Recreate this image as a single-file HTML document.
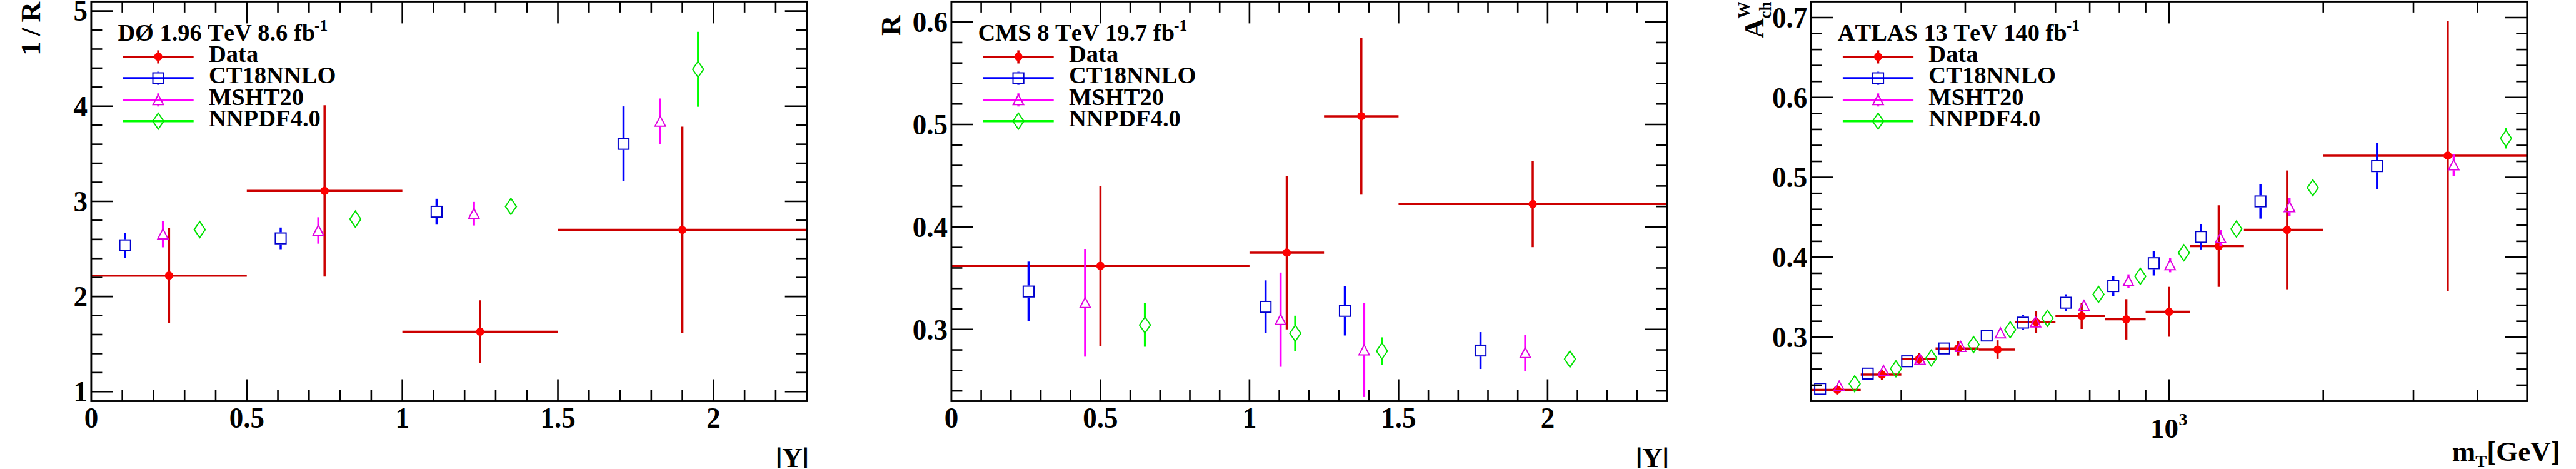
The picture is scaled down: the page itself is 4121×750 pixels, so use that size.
<!DOCTYPE html>
<html><head><meta charset="utf-8"><title>plots</title>
<style>
html,body{margin:0;padding:0;background:#fff;}
svg{display:block}
text{font-family:"Liberation Serif",serif;font-weight:bold;fill:#000;font-kerning:none;}
</style></head><body>
<svg width="4121" height="750" viewBox="0 0 4121 750">
<defs><clipPath id="cb"><rect x="0" y="0" width="4121" height="748"/></clipPath></defs>
<rect x="0" y="0" width="4121" height="750" fill="#fff"/>
<line x1="145.90" y1="440.64" x2="394.77" y2="440.64" stroke="#cc0000" stroke-width="3.5" stroke-linecap="butt"/>
<line x1="270.33" y1="364.56" x2="270.33" y2="516.72" stroke="#cc0000" stroke-width="3.5" stroke-linecap="butt"/>
<circle cx="270.33" cy="440.64" r="6.6" fill="#ff0000"/>
<line x1="394.77" y1="305.21" x2="643.64" y2="305.21" stroke="#cc0000" stroke-width="3.5" stroke-linecap="butt"/>
<line x1="519.20" y1="168.26" x2="519.20" y2="442.16" stroke="#cc0000" stroke-width="3.5" stroke-linecap="butt"/>
<circle cx="519.20" cy="305.21" r="6.6" fill="#ff0000"/>
<line x1="643.64" y1="530.42" x2="892.51" y2="530.42" stroke="#cc0000" stroke-width="3.5" stroke-linecap="butt"/>
<line x1="768.07" y1="480.20" x2="768.07" y2="580.63" stroke="#cc0000" stroke-width="3.5" stroke-linecap="butt"/>
<circle cx="768.07" cy="530.42" r="6.6" fill="#ff0000"/>
<line x1="892.51" y1="367.60" x2="1290.70" y2="367.60" stroke="#cc0000" stroke-width="3.5" stroke-linecap="butt"/>
<line x1="1091.60" y1="202.50" x2="1091.60" y2="532.70" stroke="#cc0000" stroke-width="3.5" stroke-linecap="butt"/>
<circle cx="1091.60" cy="367.60" r="6.6" fill="#ff0000"/>
<line x1="200.15" y1="372.47" x2="200.15" y2="382.65" stroke="#0000ff" stroke-width="3.5" stroke-linecap="butt"/>
<line x1="200.15" y1="401.85" x2="200.15" y2="412.03" stroke="#0000ff" stroke-width="3.5" stroke-linecap="butt"/>
<rect x="191.55" y="383.65" width="17.2" height="17.2" fill="none" stroke="#0000cc" stroke-width="2.0"/>
<line x1="449.02" y1="363.80" x2="449.02" y2="371.54" stroke="#0000ff" stroke-width="3.5" stroke-linecap="butt"/>
<line x1="449.02" y1="390.74" x2="449.02" y2="398.49" stroke="#0000ff" stroke-width="3.5" stroke-linecap="butt"/>
<rect x="440.42" y="372.54" width="17.2" height="17.2" fill="none" stroke="#0000cc" stroke-width="2.0"/>
<line x1="698.39" y1="317.84" x2="698.39" y2="328.94" stroke="#0000ff" stroke-width="3.5" stroke-linecap="butt"/>
<line x1="698.39" y1="348.14" x2="698.39" y2="359.23" stroke="#0000ff" stroke-width="3.5" stroke-linecap="butt"/>
<rect x="689.79" y="329.94" width="17.2" height="17.2" fill="none" stroke="#0000cc" stroke-width="2.0"/>
<line x1="997.53" y1="170.09" x2="997.53" y2="220.44" stroke="#0000ff" stroke-width="3.5" stroke-linecap="butt"/>
<line x1="997.53" y1="239.64" x2="997.53" y2="290.00" stroke="#0000ff" stroke-width="3.5" stroke-linecap="butt"/>
<rect x="988.93" y="221.44" width="17.2" height="17.2" fill="none" stroke="#0000cc" stroke-width="2.0"/>
<line x1="260.68" y1="353.45" x2="260.68" y2="366.85" stroke="#ff00ff" stroke-width="3.5" stroke-linecap="butt"/>
<line x1="260.68" y1="382.75" x2="260.68" y2="395.45" stroke="#ff00ff" stroke-width="3.5" stroke-linecap="butt"/>
<path d="M252.38 381.95L268.98 381.95L260.68 366.15Z" fill="none" stroke="#e000e0" stroke-width="2.0" stroke-linejoin="miter"/>
<line x1="509.25" y1="347.36" x2="509.25" y2="360.91" stroke="#ff00ff" stroke-width="3.5" stroke-linecap="butt"/>
<line x1="509.25" y1="376.81" x2="509.25" y2="389.66" stroke="#ff00ff" stroke-width="3.5" stroke-linecap="butt"/>
<path d="M500.95 376.01L517.55 376.01L509.25 360.21Z" fill="none" stroke="#e000e0" stroke-width="2.0" stroke-linejoin="miter"/>
<line x1="758.12" y1="322.86" x2="758.12" y2="334.13" stroke="#ff00ff" stroke-width="3.5" stroke-linecap="butt"/>
<line x1="758.12" y1="350.03" x2="758.12" y2="360.60" stroke="#ff00ff" stroke-width="3.5" stroke-linecap="butt"/>
<path d="M749.82 349.23L766.42 349.23L758.12 333.43Z" fill="none" stroke="#e000e0" stroke-width="2.0" stroke-linejoin="miter"/>
<line x1="1056.26" y1="157.46" x2="1056.26" y2="186.53" stroke="#ff00ff" stroke-width="3.5" stroke-linecap="butt"/>
<line x1="1056.26" y1="202.43" x2="1056.26" y2="230.80" stroke="#ff00ff" stroke-width="3.5" stroke-linecap="butt"/>
<path d="M1047.96 201.63L1064.56 201.63L1056.26 185.83Z" fill="none" stroke="#e000e0" stroke-width="2.0" stroke-linejoin="miter"/>
<path d="M310.66 367.14L319.46 354.34L328.26 367.14L319.46 379.94Z" fill="none" stroke="#00e200" stroke-width="2.0" stroke-linejoin="miter"/>
<path d="M559.68 350.41L568.48 337.61L577.28 350.41L568.48 363.21Z" fill="none" stroke="#00e200" stroke-width="2.0" stroke-linejoin="miter"/>
<path d="M808.55 330.17L817.35 317.37L826.15 330.17L817.35 342.97Z" fill="none" stroke="#00e200" stroke-width="2.0" stroke-linejoin="miter"/>
<line x1="1116.79" y1="50.79" x2="1116.79" y2="98.14" stroke="#00ff00" stroke-width="3.5" stroke-linecap="butt"/>
<line x1="1116.79" y1="123.34" x2="1116.79" y2="170.70" stroke="#00ff00" stroke-width="3.5" stroke-linecap="butt"/>
<path d="M1107.99 110.74L1116.79 97.94L1125.59 110.74L1116.79 123.54Z" fill="none" stroke="#00e200" stroke-width="2.0" stroke-linejoin="miter"/>
<line x1="145.90" y1="626.28" x2="180.90" y2="626.28" stroke="#000" stroke-width="2.6" stroke-linecap="butt"/>
<line x1="1290.70" y1="626.28" x2="1255.70" y2="626.28" stroke="#000" stroke-width="2.6" stroke-linecap="butt"/>
<line x1="145.90" y1="595.85" x2="163.40" y2="595.85" stroke="#000" stroke-width="2.6" stroke-linecap="butt"/>
<line x1="1290.70" y1="595.85" x2="1273.20" y2="595.85" stroke="#000" stroke-width="2.6" stroke-linecap="butt"/>
<line x1="145.90" y1="565.42" x2="163.40" y2="565.42" stroke="#000" stroke-width="2.6" stroke-linecap="butt"/>
<line x1="1290.70" y1="565.42" x2="1273.20" y2="565.42" stroke="#000" stroke-width="2.6" stroke-linecap="butt"/>
<line x1="145.90" y1="534.98" x2="163.40" y2="534.98" stroke="#000" stroke-width="2.6" stroke-linecap="butt"/>
<line x1="1290.70" y1="534.98" x2="1273.20" y2="534.98" stroke="#000" stroke-width="2.6" stroke-linecap="butt"/>
<line x1="145.90" y1="504.55" x2="163.40" y2="504.55" stroke="#000" stroke-width="2.6" stroke-linecap="butt"/>
<line x1="1290.70" y1="504.55" x2="1273.20" y2="504.55" stroke="#000" stroke-width="2.6" stroke-linecap="butt"/>
<line x1="145.90" y1="474.12" x2="180.90" y2="474.12" stroke="#000" stroke-width="2.6" stroke-linecap="butt"/>
<line x1="1290.70" y1="474.12" x2="1255.70" y2="474.12" stroke="#000" stroke-width="2.6" stroke-linecap="butt"/>
<line x1="145.90" y1="443.68" x2="163.40" y2="443.68" stroke="#000" stroke-width="2.6" stroke-linecap="butt"/>
<line x1="1290.70" y1="443.68" x2="1273.20" y2="443.68" stroke="#000" stroke-width="2.6" stroke-linecap="butt"/>
<line x1="145.90" y1="413.25" x2="163.40" y2="413.25" stroke="#000" stroke-width="2.6" stroke-linecap="butt"/>
<line x1="1290.70" y1="413.25" x2="1273.20" y2="413.25" stroke="#000" stroke-width="2.6" stroke-linecap="butt"/>
<line x1="145.90" y1="382.82" x2="163.40" y2="382.82" stroke="#000" stroke-width="2.6" stroke-linecap="butt"/>
<line x1="1290.70" y1="382.82" x2="1273.20" y2="382.82" stroke="#000" stroke-width="2.6" stroke-linecap="butt"/>
<line x1="145.90" y1="352.38" x2="163.40" y2="352.38" stroke="#000" stroke-width="2.6" stroke-linecap="butt"/>
<line x1="1290.70" y1="352.38" x2="1273.20" y2="352.38" stroke="#000" stroke-width="2.6" stroke-linecap="butt"/>
<line x1="145.90" y1="321.95" x2="180.90" y2="321.95" stroke="#000" stroke-width="2.6" stroke-linecap="butt"/>
<line x1="1290.70" y1="321.95" x2="1255.70" y2="321.95" stroke="#000" stroke-width="2.6" stroke-linecap="butt"/>
<line x1="145.90" y1="291.52" x2="163.40" y2="291.52" stroke="#000" stroke-width="2.6" stroke-linecap="butt"/>
<line x1="1290.70" y1="291.52" x2="1273.20" y2="291.52" stroke="#000" stroke-width="2.6" stroke-linecap="butt"/>
<line x1="145.90" y1="261.08" x2="163.40" y2="261.08" stroke="#000" stroke-width="2.6" stroke-linecap="butt"/>
<line x1="1290.70" y1="261.08" x2="1273.20" y2="261.08" stroke="#000" stroke-width="2.6" stroke-linecap="butt"/>
<line x1="145.90" y1="230.65" x2="163.40" y2="230.65" stroke="#000" stroke-width="2.6" stroke-linecap="butt"/>
<line x1="1290.70" y1="230.65" x2="1273.20" y2="230.65" stroke="#000" stroke-width="2.6" stroke-linecap="butt"/>
<line x1="145.90" y1="200.22" x2="163.40" y2="200.22" stroke="#000" stroke-width="2.6" stroke-linecap="butt"/>
<line x1="1290.70" y1="200.22" x2="1273.20" y2="200.22" stroke="#000" stroke-width="2.6" stroke-linecap="butt"/>
<line x1="145.90" y1="169.78" x2="180.90" y2="169.78" stroke="#000" stroke-width="2.6" stroke-linecap="butt"/>
<line x1="1290.70" y1="169.78" x2="1255.70" y2="169.78" stroke="#000" stroke-width="2.6" stroke-linecap="butt"/>
<line x1="145.90" y1="139.35" x2="163.40" y2="139.35" stroke="#000" stroke-width="2.6" stroke-linecap="butt"/>
<line x1="1290.70" y1="139.35" x2="1273.20" y2="139.35" stroke="#000" stroke-width="2.6" stroke-linecap="butt"/>
<line x1="145.90" y1="108.92" x2="163.40" y2="108.92" stroke="#000" stroke-width="2.6" stroke-linecap="butt"/>
<line x1="1290.70" y1="108.92" x2="1273.20" y2="108.92" stroke="#000" stroke-width="2.6" stroke-linecap="butt"/>
<line x1="145.90" y1="78.48" x2="163.40" y2="78.48" stroke="#000" stroke-width="2.6" stroke-linecap="butt"/>
<line x1="1290.70" y1="78.48" x2="1273.20" y2="78.48" stroke="#000" stroke-width="2.6" stroke-linecap="butt"/>
<line x1="145.90" y1="48.05" x2="163.40" y2="48.05" stroke="#000" stroke-width="2.6" stroke-linecap="butt"/>
<line x1="1290.70" y1="48.05" x2="1273.20" y2="48.05" stroke="#000" stroke-width="2.6" stroke-linecap="butt"/>
<line x1="145.90" y1="17.62" x2="180.90" y2="17.62" stroke="#000" stroke-width="2.6" stroke-linecap="butt"/>
<line x1="1290.70" y1="17.62" x2="1255.70" y2="17.62" stroke="#000" stroke-width="2.6" stroke-linecap="butt"/>
<text transform="translate(139.90,642.08) scale(1,1.04)" font-size="45" text-anchor="end">1</text>
<text transform="translate(139.90,489.92) scale(1,1.04)" font-size="45" text-anchor="end">2</text>
<text transform="translate(139.90,337.75) scale(1,1.04)" font-size="45" text-anchor="end">3</text>
<text transform="translate(139.90,185.58) scale(1,1.04)" font-size="45" text-anchor="end">4</text>
<text transform="translate(139.90,33.42) scale(1,1.04)" font-size="45" text-anchor="end">5</text>
<line x1="195.67" y1="641.50" x2="195.67" y2="624.00" stroke="#000" stroke-width="2.6" stroke-linecap="butt"/>
<line x1="195.67" y1="2.40" x2="195.67" y2="19.90" stroke="#000" stroke-width="2.6" stroke-linecap="butt"/>
<line x1="245.45" y1="641.50" x2="245.45" y2="624.00" stroke="#000" stroke-width="2.6" stroke-linecap="butt"/>
<line x1="245.45" y1="2.40" x2="245.45" y2="19.90" stroke="#000" stroke-width="2.6" stroke-linecap="butt"/>
<line x1="295.22" y1="641.50" x2="295.22" y2="624.00" stroke="#000" stroke-width="2.6" stroke-linecap="butt"/>
<line x1="295.22" y1="2.40" x2="295.22" y2="19.90" stroke="#000" stroke-width="2.6" stroke-linecap="butt"/>
<line x1="345.00" y1="641.50" x2="345.00" y2="624.00" stroke="#000" stroke-width="2.6" stroke-linecap="butt"/>
<line x1="345.00" y1="2.40" x2="345.00" y2="19.90" stroke="#000" stroke-width="2.6" stroke-linecap="butt"/>
<line x1="394.77" y1="641.50" x2="394.77" y2="606.50" stroke="#000" stroke-width="2.6" stroke-linecap="butt"/>
<line x1="394.77" y1="2.40" x2="394.77" y2="37.40" stroke="#000" stroke-width="2.6" stroke-linecap="butt"/>
<line x1="444.54" y1="641.50" x2="444.54" y2="624.00" stroke="#000" stroke-width="2.6" stroke-linecap="butt"/>
<line x1="444.54" y1="2.40" x2="444.54" y2="19.90" stroke="#000" stroke-width="2.6" stroke-linecap="butt"/>
<line x1="494.32" y1="641.50" x2="494.32" y2="624.00" stroke="#000" stroke-width="2.6" stroke-linecap="butt"/>
<line x1="494.32" y1="2.40" x2="494.32" y2="19.90" stroke="#000" stroke-width="2.6" stroke-linecap="butt"/>
<line x1="544.09" y1="641.50" x2="544.09" y2="624.00" stroke="#000" stroke-width="2.6" stroke-linecap="butt"/>
<line x1="544.09" y1="2.40" x2="544.09" y2="19.90" stroke="#000" stroke-width="2.6" stroke-linecap="butt"/>
<line x1="593.87" y1="641.50" x2="593.87" y2="624.00" stroke="#000" stroke-width="2.6" stroke-linecap="butt"/>
<line x1="593.87" y1="2.40" x2="593.87" y2="19.90" stroke="#000" stroke-width="2.6" stroke-linecap="butt"/>
<line x1="643.64" y1="641.50" x2="643.64" y2="606.50" stroke="#000" stroke-width="2.6" stroke-linecap="butt"/>
<line x1="643.64" y1="2.40" x2="643.64" y2="37.40" stroke="#000" stroke-width="2.6" stroke-linecap="butt"/>
<line x1="693.41" y1="641.50" x2="693.41" y2="624.00" stroke="#000" stroke-width="2.6" stroke-linecap="butt"/>
<line x1="693.41" y1="2.40" x2="693.41" y2="19.90" stroke="#000" stroke-width="2.6" stroke-linecap="butt"/>
<line x1="743.19" y1="641.50" x2="743.19" y2="624.00" stroke="#000" stroke-width="2.6" stroke-linecap="butt"/>
<line x1="743.19" y1="2.40" x2="743.19" y2="19.90" stroke="#000" stroke-width="2.6" stroke-linecap="butt"/>
<line x1="792.96" y1="641.50" x2="792.96" y2="624.00" stroke="#000" stroke-width="2.6" stroke-linecap="butt"/>
<line x1="792.96" y1="2.40" x2="792.96" y2="19.90" stroke="#000" stroke-width="2.6" stroke-linecap="butt"/>
<line x1="842.73" y1="641.50" x2="842.73" y2="624.00" stroke="#000" stroke-width="2.6" stroke-linecap="butt"/>
<line x1="842.73" y1="2.40" x2="842.73" y2="19.90" stroke="#000" stroke-width="2.6" stroke-linecap="butt"/>
<line x1="892.51" y1="641.50" x2="892.51" y2="606.50" stroke="#000" stroke-width="2.6" stroke-linecap="butt"/>
<line x1="892.51" y1="2.40" x2="892.51" y2="37.40" stroke="#000" stroke-width="2.6" stroke-linecap="butt"/>
<line x1="942.28" y1="641.50" x2="942.28" y2="624.00" stroke="#000" stroke-width="2.6" stroke-linecap="butt"/>
<line x1="942.28" y1="2.40" x2="942.28" y2="19.90" stroke="#000" stroke-width="2.6" stroke-linecap="butt"/>
<line x1="992.06" y1="641.50" x2="992.06" y2="624.00" stroke="#000" stroke-width="2.6" stroke-linecap="butt"/>
<line x1="992.06" y1="2.40" x2="992.06" y2="19.90" stroke="#000" stroke-width="2.6" stroke-linecap="butt"/>
<line x1="1041.83" y1="641.50" x2="1041.83" y2="624.00" stroke="#000" stroke-width="2.6" stroke-linecap="butt"/>
<line x1="1041.83" y1="2.40" x2="1041.83" y2="19.90" stroke="#000" stroke-width="2.6" stroke-linecap="butt"/>
<line x1="1091.60" y1="641.50" x2="1091.60" y2="624.00" stroke="#000" stroke-width="2.6" stroke-linecap="butt"/>
<line x1="1091.60" y1="2.40" x2="1091.60" y2="19.90" stroke="#000" stroke-width="2.6" stroke-linecap="butt"/>
<line x1="1141.38" y1="641.50" x2="1141.38" y2="606.50" stroke="#000" stroke-width="2.6" stroke-linecap="butt"/>
<line x1="1141.38" y1="2.40" x2="1141.38" y2="37.40" stroke="#000" stroke-width="2.6" stroke-linecap="butt"/>
<line x1="1191.15" y1="641.50" x2="1191.15" y2="624.00" stroke="#000" stroke-width="2.6" stroke-linecap="butt"/>
<line x1="1191.15" y1="2.40" x2="1191.15" y2="19.90" stroke="#000" stroke-width="2.6" stroke-linecap="butt"/>
<line x1="1240.93" y1="641.50" x2="1240.93" y2="624.00" stroke="#000" stroke-width="2.6" stroke-linecap="butt"/>
<line x1="1240.93" y1="2.40" x2="1240.93" y2="19.90" stroke="#000" stroke-width="2.6" stroke-linecap="butt"/>
<text transform="translate(145.90,684.00) scale(1,1.04)" font-size="45" text-anchor="middle">0</text>
<text transform="translate(394.77,684.00) scale(1,1.04)" font-size="45" text-anchor="middle">0.5</text>
<text transform="translate(643.64,684.00) scale(1,1.04)" font-size="45" text-anchor="middle">1</text>
<text transform="translate(892.51,684.00) scale(1,1.04)" font-size="45" text-anchor="middle">1.5</text>
<text transform="translate(1141.38,684.00) scale(1,1.04)" font-size="45" text-anchor="middle">2</text>
<rect x="145.90" y="2.4" width="1144.8" height="639.10" fill="none" stroke="#000" stroke-width="2.9"/>
<text x="188.40" y="64.8" font-size="38.4">DØ 1.96 TeV 8.6 fb<tspan font-size="25.5" dy="-16.2" dx="-1">-1</tspan></text>
<line x1="196.50" y1="90.70" x2="309.70" y2="90.70" stroke="#cc0000" stroke-width="3.5" stroke-linecap="butt"/>
<line x1="253.10" y1="80.40" x2="253.10" y2="101.50" stroke="#cc0000" stroke-width="3.5" stroke-linecap="butt"/>
<circle cx="253.10" cy="90.70" r="6.6" fill="#ff0000"/>
<text x="333.90" y="98.50" font-size="38.6">Data</text>
<line x1="196.50" y1="125.10" x2="309.70" y2="125.10" stroke="#0000ff" stroke-width="3.5" stroke-linecap="butt"/>
<line x1="253.10" y1="114.60" x2="253.10" y2="115.50" stroke="#0000ff" stroke-width="3.5" stroke-linecap="butt"/>
<line x1="253.10" y1="134.70" x2="253.10" y2="135.60" stroke="#0000ff" stroke-width="3.5" stroke-linecap="butt"/>
<rect x="244.50" y="116.50" width="17.2" height="17.2" fill="none" stroke="#0000cc" stroke-width="2.0"/>
<text x="333.90" y="132.90" font-size="38.6">CT18NNLO</text>
<line x1="196.50" y1="159.80" x2="309.70" y2="159.80" stroke="#ff00ff" stroke-width="3.5" stroke-linecap="butt"/>
<line x1="253.10" y1="149.30" x2="253.10" y2="152.20" stroke="#ff00ff" stroke-width="3.5" stroke-linecap="butt"/>
<line x1="253.10" y1="168.10" x2="253.10" y2="170.30" stroke="#ff00ff" stroke-width="3.5" stroke-linecap="butt"/>
<path d="M244.80 167.30L261.40 167.30L253.10 151.50Z" fill="none" stroke="#e000e0" stroke-width="2.0" stroke-linejoin="miter"/>
<text x="333.90" y="167.60" font-size="38.6">MSHT20</text>
<line x1="196.50" y1="193.80" x2="309.70" y2="193.80" stroke="#00ff00" stroke-width="3.5" stroke-linecap="butt"/>
<path d="M244.30 193.80L253.10 181.00L261.90 193.80L253.10 206.60Z" fill="none" stroke="#00e200" stroke-width="2.0" stroke-linejoin="miter"/>
<text x="333.90" y="201.60" font-size="38.6">NNPDF4.0</text>
<text transform="translate(64.2,3.1) rotate(-90)" font-size="45" text-anchor="end" word-spacing="-2.2">1 / R</text>
<text x="1293.70" y="746.90" font-size="45" text-anchor="end" clip-path="url(#cb)"><tspan stroke="#000" stroke-width="1.1">|</tspan>Y<tspan stroke="#000" stroke-width="1.1">|</tspan></text>
<line x1="1521.90" y1="425.19" x2="1998.90" y2="425.19" stroke="#cc0000" stroke-width="3.5" stroke-linecap="butt"/>
<line x1="1760.40" y1="297.37" x2="1760.40" y2="553.01" stroke="#cc0000" stroke-width="3.5" stroke-linecap="butt"/>
<circle cx="1760.40" cy="425.19" r="6.6" fill="#ff0000"/>
<line x1="1998.90" y1="403.89" x2="2118.15" y2="403.89" stroke="#cc0000" stroke-width="3.5" stroke-linecap="butt"/>
<line x1="2058.53" y1="280.98" x2="2058.53" y2="526.79" stroke="#cc0000" stroke-width="3.5" stroke-linecap="butt"/>
<circle cx="2058.53" cy="403.89" r="6.6" fill="#ff0000"/>
<line x1="2118.15" y1="185.94" x2="2237.40" y2="185.94" stroke="#cc0000" stroke-width="3.5" stroke-linecap="butt"/>
<line x1="2177.78" y1="60.57" x2="2177.78" y2="311.30" stroke="#cc0000" stroke-width="3.5" stroke-linecap="butt"/>
<circle cx="2177.78" cy="185.94" r="6.6" fill="#ff0000"/>
<line x1="2237.40" y1="326.37" x2="2666.70" y2="326.37" stroke="#cc0000" stroke-width="3.5" stroke-linecap="butt"/>
<line x1="2452.05" y1="257.55" x2="2452.05" y2="395.20" stroke="#cc0000" stroke-width="3.5" stroke-linecap="butt"/>
<circle cx="2452.05" cy="326.37" r="6.6" fill="#ff0000"/>
<line x1="1645.44" y1="418.31" x2="1645.44" y2="456.56" stroke="#0000ff" stroke-width="3.5" stroke-linecap="butt"/>
<line x1="1645.44" y1="475.76" x2="1645.44" y2="514.01" stroke="#0000ff" stroke-width="3.5" stroke-linecap="butt"/>
<rect x="1636.84" y="457.56" width="17.2" height="17.2" fill="none" stroke="#0000cc" stroke-width="2.0"/>
<line x1="2024.66" y1="448.30" x2="2024.66" y2="480.97" stroke="#0000ff" stroke-width="3.5" stroke-linecap="butt"/>
<line x1="2024.66" y1="500.17" x2="2024.66" y2="532.85" stroke="#0000ff" stroke-width="3.5" stroke-linecap="butt"/>
<rect x="2016.06" y="481.97" width="17.2" height="17.2" fill="none" stroke="#0000cc" stroke-width="2.0"/>
<line x1="2151.54" y1="457.80" x2="2151.54" y2="487.53" stroke="#0000ff" stroke-width="3.5" stroke-linecap="butt"/>
<line x1="2151.54" y1="506.73" x2="2151.54" y2="536.46" stroke="#0000ff" stroke-width="3.5" stroke-linecap="butt"/>
<rect x="2142.94" y="488.53" width="17.2" height="17.2" fill="none" stroke="#0000cc" stroke-width="2.0"/>
<line x1="2368.57" y1="531.05" x2="2368.57" y2="550.95" stroke="#0000ff" stroke-width="3.5" stroke-linecap="butt"/>
<line x1="2368.57" y1="570.15" x2="2368.57" y2="590.04" stroke="#0000ff" stroke-width="3.5" stroke-linecap="butt"/>
<rect x="2359.97" y="551.95" width="17.2" height="17.2" fill="none" stroke="#0000cc" stroke-width="2.0"/>
<line x1="1735.98" y1="397.99" x2="1735.98" y2="476.58" stroke="#ff00ff" stroke-width="3.5" stroke-linecap="butt"/>
<line x1="1735.98" y1="492.48" x2="1735.98" y2="570.38" stroke="#ff00ff" stroke-width="3.5" stroke-linecap="butt"/>
<path d="M1727.68 491.68L1744.28 491.68L1735.98 475.88Z" fill="none" stroke="#e000e0" stroke-width="2.0" stroke-linejoin="miter"/>
<line x1="2048.65" y1="435.84" x2="2048.65" y2="503.62" stroke="#ff00ff" stroke-width="3.5" stroke-linecap="butt"/>
<line x1="2048.65" y1="519.52" x2="2048.65" y2="586.60" stroke="#ff00ff" stroke-width="3.5" stroke-linecap="butt"/>
<path d="M2040.35 518.72L2056.95 518.72L2048.65 502.92Z" fill="none" stroke="#e000e0" stroke-width="2.0" stroke-linejoin="miter"/>
<line x1="2182.31" y1="484.84" x2="2182.31" y2="552.29" stroke="#ff00ff" stroke-width="3.5" stroke-linecap="butt"/>
<line x1="2182.31" y1="568.19" x2="2182.31" y2="634.95" stroke="#ff00ff" stroke-width="3.5" stroke-linecap="butt"/>
<path d="M2174.01 567.39L2190.61 567.39L2182.31 551.59Z" fill="none" stroke="#e000e0" stroke-width="2.0" stroke-linejoin="miter"/>
<line x1="2440.12" y1="535.15" x2="2440.12" y2="556.72" stroke="#ff00ff" stroke-width="3.5" stroke-linecap="butt"/>
<line x1="2440.12" y1="572.62" x2="2440.12" y2="593.49" stroke="#ff00ff" stroke-width="3.5" stroke-linecap="butt"/>
<path d="M2431.82 571.82L2448.43 571.82L2440.12 556.02Z" fill="none" stroke="#e000e0" stroke-width="2.0" stroke-linejoin="miter"/>
<line x1="1831.66" y1="485.00" x2="1831.66" y2="507.14" stroke="#00ff00" stroke-width="3.5" stroke-linecap="butt"/>
<line x1="1831.66" y1="532.34" x2="1831.66" y2="554.48" stroke="#00ff00" stroke-width="3.5" stroke-linecap="butt"/>
<path d="M1822.86 519.74L1831.66 506.94L1840.46 519.74L1831.66 532.54Z" fill="none" stroke="#00e200" stroke-width="2.0" stroke-linejoin="miter"/>
<line x1="2072.12" y1="504.83" x2="2072.12" y2="520.42" stroke="#00ff00" stroke-width="3.5" stroke-linecap="butt"/>
<line x1="2072.12" y1="545.62" x2="2072.12" y2="561.20" stroke="#00ff00" stroke-width="3.5" stroke-linecap="butt"/>
<path d="M2063.32 533.02L2072.12 520.22L2080.92 533.02L2072.12 545.82Z" fill="none" stroke="#00e200" stroke-width="2.0" stroke-linejoin="miter"/>
<line x1="2210.83" y1="539.41" x2="2210.83" y2="548.60" stroke="#00ff00" stroke-width="3.5" stroke-linecap="butt"/>
<line x1="2210.83" y1="573.80" x2="2210.83" y2="583.00" stroke="#00ff00" stroke-width="3.5" stroke-linecap="butt"/>
<path d="M2202.03 561.20L2210.83 548.40L2219.63 561.20L2210.83 574.00Z" fill="none" stroke="#00e200" stroke-width="2.0" stroke-linejoin="miter"/>
<path d="M2502.88 574.15L2511.68 561.35L2520.48 574.15L2511.68 586.95Z" fill="none" stroke="#00e200" stroke-width="2.0" stroke-linejoin="miter"/>
<line x1="1521.90" y1="625.11" x2="1539.40" y2="625.11" stroke="#000" stroke-width="2.6" stroke-linecap="butt"/>
<line x1="2666.70" y1="625.11" x2="2649.20" y2="625.11" stroke="#000" stroke-width="2.6" stroke-linecap="butt"/>
<line x1="1521.90" y1="592.34" x2="1539.40" y2="592.34" stroke="#000" stroke-width="2.6" stroke-linecap="butt"/>
<line x1="2666.70" y1="592.34" x2="2649.20" y2="592.34" stroke="#000" stroke-width="2.6" stroke-linecap="butt"/>
<line x1="1521.90" y1="559.56" x2="1539.40" y2="559.56" stroke="#000" stroke-width="2.6" stroke-linecap="butt"/>
<line x1="2666.70" y1="559.56" x2="2649.20" y2="559.56" stroke="#000" stroke-width="2.6" stroke-linecap="butt"/>
<line x1="1521.90" y1="526.79" x2="1556.90" y2="526.79" stroke="#000" stroke-width="2.6" stroke-linecap="butt"/>
<line x1="2666.70" y1="526.79" x2="2631.70" y2="526.79" stroke="#000" stroke-width="2.6" stroke-linecap="butt"/>
<line x1="1521.90" y1="494.02" x2="1539.40" y2="494.02" stroke="#000" stroke-width="2.6" stroke-linecap="butt"/>
<line x1="2666.70" y1="494.02" x2="2649.20" y2="494.02" stroke="#000" stroke-width="2.6" stroke-linecap="butt"/>
<line x1="1521.90" y1="461.24" x2="1539.40" y2="461.24" stroke="#000" stroke-width="2.6" stroke-linecap="butt"/>
<line x1="2666.70" y1="461.24" x2="2649.20" y2="461.24" stroke="#000" stroke-width="2.6" stroke-linecap="butt"/>
<line x1="1521.90" y1="428.47" x2="1539.40" y2="428.47" stroke="#000" stroke-width="2.6" stroke-linecap="butt"/>
<line x1="2666.70" y1="428.47" x2="2649.20" y2="428.47" stroke="#000" stroke-width="2.6" stroke-linecap="butt"/>
<line x1="1521.90" y1="395.69" x2="1539.40" y2="395.69" stroke="#000" stroke-width="2.6" stroke-linecap="butt"/>
<line x1="2666.70" y1="395.69" x2="2649.20" y2="395.69" stroke="#000" stroke-width="2.6" stroke-linecap="butt"/>
<line x1="1521.90" y1="362.92" x2="1556.90" y2="362.92" stroke="#000" stroke-width="2.6" stroke-linecap="butt"/>
<line x1="2666.70" y1="362.92" x2="2631.70" y2="362.92" stroke="#000" stroke-width="2.6" stroke-linecap="butt"/>
<line x1="1521.90" y1="330.14" x2="1539.40" y2="330.14" stroke="#000" stroke-width="2.6" stroke-linecap="butt"/>
<line x1="2666.70" y1="330.14" x2="2649.20" y2="330.14" stroke="#000" stroke-width="2.6" stroke-linecap="butt"/>
<line x1="1521.90" y1="297.37" x2="1539.40" y2="297.37" stroke="#000" stroke-width="2.6" stroke-linecap="butt"/>
<line x1="2666.70" y1="297.37" x2="2649.20" y2="297.37" stroke="#000" stroke-width="2.6" stroke-linecap="butt"/>
<line x1="1521.90" y1="264.59" x2="1539.40" y2="264.59" stroke="#000" stroke-width="2.6" stroke-linecap="butt"/>
<line x1="2666.70" y1="264.59" x2="2649.20" y2="264.59" stroke="#000" stroke-width="2.6" stroke-linecap="butt"/>
<line x1="1521.90" y1="231.82" x2="1539.40" y2="231.82" stroke="#000" stroke-width="2.6" stroke-linecap="butt"/>
<line x1="2666.70" y1="231.82" x2="2649.20" y2="231.82" stroke="#000" stroke-width="2.6" stroke-linecap="butt"/>
<line x1="1521.90" y1="199.05" x2="1556.90" y2="199.05" stroke="#000" stroke-width="2.6" stroke-linecap="butt"/>
<line x1="2666.70" y1="199.05" x2="2631.70" y2="199.05" stroke="#000" stroke-width="2.6" stroke-linecap="butt"/>
<line x1="1521.90" y1="166.27" x2="1539.40" y2="166.27" stroke="#000" stroke-width="2.6" stroke-linecap="butt"/>
<line x1="2666.70" y1="166.27" x2="2649.20" y2="166.27" stroke="#000" stroke-width="2.6" stroke-linecap="butt"/>
<line x1="1521.90" y1="133.50" x2="1539.40" y2="133.50" stroke="#000" stroke-width="2.6" stroke-linecap="butt"/>
<line x1="2666.70" y1="133.50" x2="2649.20" y2="133.50" stroke="#000" stroke-width="2.6" stroke-linecap="butt"/>
<line x1="1521.90" y1="100.72" x2="1539.40" y2="100.72" stroke="#000" stroke-width="2.6" stroke-linecap="butt"/>
<line x1="2666.70" y1="100.72" x2="2649.20" y2="100.72" stroke="#000" stroke-width="2.6" stroke-linecap="butt"/>
<line x1="1521.90" y1="67.95" x2="1539.40" y2="67.95" stroke="#000" stroke-width="2.6" stroke-linecap="butt"/>
<line x1="2666.70" y1="67.95" x2="2649.20" y2="67.95" stroke="#000" stroke-width="2.6" stroke-linecap="butt"/>
<line x1="1521.90" y1="35.17" x2="1556.90" y2="35.17" stroke="#000" stroke-width="2.6" stroke-linecap="butt"/>
<line x1="2666.70" y1="35.17" x2="2631.70" y2="35.17" stroke="#000" stroke-width="2.6" stroke-linecap="butt"/>
<text transform="translate(1515.90,542.59) scale(1,1.04)" font-size="45" text-anchor="end">0.3</text>
<text transform="translate(1515.90,378.72) scale(1,1.04)" font-size="45" text-anchor="end">0.4</text>
<text transform="translate(1515.90,214.85) scale(1,1.04)" font-size="45" text-anchor="end">0.5</text>
<text transform="translate(1515.90,50.97) scale(1,1.04)" font-size="45" text-anchor="end">0.6</text>
<line x1="1569.60" y1="641.50" x2="1569.60" y2="624.00" stroke="#000" stroke-width="2.6" stroke-linecap="butt"/>
<line x1="1569.60" y1="2.40" x2="1569.60" y2="19.90" stroke="#000" stroke-width="2.6" stroke-linecap="butt"/>
<line x1="1617.30" y1="641.50" x2="1617.30" y2="624.00" stroke="#000" stroke-width="2.6" stroke-linecap="butt"/>
<line x1="1617.30" y1="2.40" x2="1617.30" y2="19.90" stroke="#000" stroke-width="2.6" stroke-linecap="butt"/>
<line x1="1665.00" y1="641.50" x2="1665.00" y2="624.00" stroke="#000" stroke-width="2.6" stroke-linecap="butt"/>
<line x1="1665.00" y1="2.40" x2="1665.00" y2="19.90" stroke="#000" stroke-width="2.6" stroke-linecap="butt"/>
<line x1="1712.70" y1="641.50" x2="1712.70" y2="624.00" stroke="#000" stroke-width="2.6" stroke-linecap="butt"/>
<line x1="1712.70" y1="2.40" x2="1712.70" y2="19.90" stroke="#000" stroke-width="2.6" stroke-linecap="butt"/>
<line x1="1760.40" y1="641.50" x2="1760.40" y2="606.50" stroke="#000" stroke-width="2.6" stroke-linecap="butt"/>
<line x1="1760.40" y1="2.40" x2="1760.40" y2="37.40" stroke="#000" stroke-width="2.6" stroke-linecap="butt"/>
<line x1="1808.10" y1="641.50" x2="1808.10" y2="624.00" stroke="#000" stroke-width="2.6" stroke-linecap="butt"/>
<line x1="1808.10" y1="2.40" x2="1808.10" y2="19.90" stroke="#000" stroke-width="2.6" stroke-linecap="butt"/>
<line x1="1855.80" y1="641.50" x2="1855.80" y2="624.00" stroke="#000" stroke-width="2.6" stroke-linecap="butt"/>
<line x1="1855.80" y1="2.40" x2="1855.80" y2="19.90" stroke="#000" stroke-width="2.6" stroke-linecap="butt"/>
<line x1="1903.50" y1="641.50" x2="1903.50" y2="624.00" stroke="#000" stroke-width="2.6" stroke-linecap="butt"/>
<line x1="1903.50" y1="2.40" x2="1903.50" y2="19.90" stroke="#000" stroke-width="2.6" stroke-linecap="butt"/>
<line x1="1951.20" y1="641.50" x2="1951.20" y2="624.00" stroke="#000" stroke-width="2.6" stroke-linecap="butt"/>
<line x1="1951.20" y1="2.40" x2="1951.20" y2="19.90" stroke="#000" stroke-width="2.6" stroke-linecap="butt"/>
<line x1="1998.90" y1="641.50" x2="1998.90" y2="606.50" stroke="#000" stroke-width="2.6" stroke-linecap="butt"/>
<line x1="1998.90" y1="2.40" x2="1998.90" y2="37.40" stroke="#000" stroke-width="2.6" stroke-linecap="butt"/>
<line x1="2046.60" y1="641.50" x2="2046.60" y2="624.00" stroke="#000" stroke-width="2.6" stroke-linecap="butt"/>
<line x1="2046.60" y1="2.40" x2="2046.60" y2="19.90" stroke="#000" stroke-width="2.6" stroke-linecap="butt"/>
<line x1="2094.30" y1="641.50" x2="2094.30" y2="624.00" stroke="#000" stroke-width="2.6" stroke-linecap="butt"/>
<line x1="2094.30" y1="2.40" x2="2094.30" y2="19.90" stroke="#000" stroke-width="2.6" stroke-linecap="butt"/>
<line x1="2142.00" y1="641.50" x2="2142.00" y2="624.00" stroke="#000" stroke-width="2.6" stroke-linecap="butt"/>
<line x1="2142.00" y1="2.40" x2="2142.00" y2="19.90" stroke="#000" stroke-width="2.6" stroke-linecap="butt"/>
<line x1="2189.70" y1="641.50" x2="2189.70" y2="624.00" stroke="#000" stroke-width="2.6" stroke-linecap="butt"/>
<line x1="2189.70" y1="2.40" x2="2189.70" y2="19.90" stroke="#000" stroke-width="2.6" stroke-linecap="butt"/>
<line x1="2237.40" y1="641.50" x2="2237.40" y2="606.50" stroke="#000" stroke-width="2.6" stroke-linecap="butt"/>
<line x1="2237.40" y1="2.40" x2="2237.40" y2="37.40" stroke="#000" stroke-width="2.6" stroke-linecap="butt"/>
<line x1="2285.10" y1="641.50" x2="2285.10" y2="624.00" stroke="#000" stroke-width="2.6" stroke-linecap="butt"/>
<line x1="2285.10" y1="2.40" x2="2285.10" y2="19.90" stroke="#000" stroke-width="2.6" stroke-linecap="butt"/>
<line x1="2332.80" y1="641.50" x2="2332.80" y2="624.00" stroke="#000" stroke-width="2.6" stroke-linecap="butt"/>
<line x1="2332.80" y1="2.40" x2="2332.80" y2="19.90" stroke="#000" stroke-width="2.6" stroke-linecap="butt"/>
<line x1="2380.50" y1="641.50" x2="2380.50" y2="624.00" stroke="#000" stroke-width="2.6" stroke-linecap="butt"/>
<line x1="2380.50" y1="2.40" x2="2380.50" y2="19.90" stroke="#000" stroke-width="2.6" stroke-linecap="butt"/>
<line x1="2428.20" y1="641.50" x2="2428.20" y2="624.00" stroke="#000" stroke-width="2.6" stroke-linecap="butt"/>
<line x1="2428.20" y1="2.40" x2="2428.20" y2="19.90" stroke="#000" stroke-width="2.6" stroke-linecap="butt"/>
<line x1="2475.90" y1="641.50" x2="2475.90" y2="606.50" stroke="#000" stroke-width="2.6" stroke-linecap="butt"/>
<line x1="2475.90" y1="2.40" x2="2475.90" y2="37.40" stroke="#000" stroke-width="2.6" stroke-linecap="butt"/>
<line x1="2523.60" y1="641.50" x2="2523.60" y2="624.00" stroke="#000" stroke-width="2.6" stroke-linecap="butt"/>
<line x1="2523.60" y1="2.40" x2="2523.60" y2="19.90" stroke="#000" stroke-width="2.6" stroke-linecap="butt"/>
<line x1="2571.30" y1="641.50" x2="2571.30" y2="624.00" stroke="#000" stroke-width="2.6" stroke-linecap="butt"/>
<line x1="2571.30" y1="2.40" x2="2571.30" y2="19.90" stroke="#000" stroke-width="2.6" stroke-linecap="butt"/>
<line x1="2619.00" y1="641.50" x2="2619.00" y2="624.00" stroke="#000" stroke-width="2.6" stroke-linecap="butt"/>
<line x1="2619.00" y1="2.40" x2="2619.00" y2="19.90" stroke="#000" stroke-width="2.6" stroke-linecap="butt"/>
<text transform="translate(1521.90,684.00) scale(1,1.04)" font-size="45" text-anchor="middle">0</text>
<text transform="translate(1760.40,684.00) scale(1,1.04)" font-size="45" text-anchor="middle">0.5</text>
<text transform="translate(1998.90,684.00) scale(1,1.04)" font-size="45" text-anchor="middle">1</text>
<text transform="translate(2237.40,684.00) scale(1,1.04)" font-size="45" text-anchor="middle">1.5</text>
<text transform="translate(2475.90,684.00) scale(1,1.04)" font-size="45" text-anchor="middle">2</text>
<rect x="1521.90" y="2.4" width="1144.8" height="639.10" fill="none" stroke="#000" stroke-width="2.9"/>
<text x="1564.40" y="64.8" font-size="38.4">CMS 8 TeV 19.7 fb<tspan font-size="25.5" dy="-16.2" dx="-1">-1</tspan></text>
<line x1="1572.50" y1="90.70" x2="1685.70" y2="90.70" stroke="#cc0000" stroke-width="3.5" stroke-linecap="butt"/>
<line x1="1629.10" y1="80.40" x2="1629.10" y2="101.50" stroke="#cc0000" stroke-width="3.5" stroke-linecap="butt"/>
<circle cx="1629.10" cy="90.70" r="6.6" fill="#ff0000"/>
<text x="1709.90" y="98.50" font-size="38.6">Data</text>
<line x1="1572.50" y1="125.10" x2="1685.70" y2="125.10" stroke="#0000ff" stroke-width="3.5" stroke-linecap="butt"/>
<line x1="1629.10" y1="114.60" x2="1629.10" y2="115.50" stroke="#0000ff" stroke-width="3.5" stroke-linecap="butt"/>
<line x1="1629.10" y1="134.70" x2="1629.10" y2="135.60" stroke="#0000ff" stroke-width="3.5" stroke-linecap="butt"/>
<rect x="1620.50" y="116.50" width="17.2" height="17.2" fill="none" stroke="#0000cc" stroke-width="2.0"/>
<text x="1709.90" y="132.90" font-size="38.6">CT18NNLO</text>
<line x1="1572.50" y1="159.80" x2="1685.70" y2="159.80" stroke="#ff00ff" stroke-width="3.5" stroke-linecap="butt"/>
<line x1="1629.10" y1="149.30" x2="1629.10" y2="152.20" stroke="#ff00ff" stroke-width="3.5" stroke-linecap="butt"/>
<line x1="1629.10" y1="168.10" x2="1629.10" y2="170.30" stroke="#ff00ff" stroke-width="3.5" stroke-linecap="butt"/>
<path d="M1620.80 167.30L1637.40 167.30L1629.10 151.50Z" fill="none" stroke="#e000e0" stroke-width="2.0" stroke-linejoin="miter"/>
<text x="1709.90" y="167.60" font-size="38.6">MSHT20</text>
<line x1="1572.50" y1="193.80" x2="1685.70" y2="193.80" stroke="#00ff00" stroke-width="3.5" stroke-linecap="butt"/>
<path d="M1620.30 193.80L1629.10 181.00L1637.90 193.80L1629.10 206.60Z" fill="none" stroke="#00e200" stroke-width="2.0" stroke-linejoin="miter"/>
<text x="1709.90" y="201.60" font-size="38.6">NNPDF4.0</text>
<text transform="translate(1440.1,24.5) rotate(-90)" font-size="45" text-anchor="end">R</text>
<text x="2669.70" y="746.90" font-size="45" text-anchor="end" clip-path="url(#cb)"><tspan stroke="#000" stroke-width="1.1">|</tspan>Y<tspan stroke="#000" stroke-width="1.1">|</tspan></text>
<line x1="2897.30" y1="623.40" x2="2976.71" y2="623.40" stroke="#cc0000" stroke-width="3.5" stroke-linecap="butt"/>
<line x1="2939.22" y1="616.00" x2="2939.22" y2="630.80" stroke="#cc0000" stroke-width="3.5" stroke-linecap="butt"/>
<circle cx="2939.22" cy="623.40" r="6.6" fill="#ff0000"/>
<line x1="2976.71" y1="599.00" x2="3041.59" y2="599.00" stroke="#cc0000" stroke-width="3.5" stroke-linecap="butt"/>
<line x1="3010.63" y1="590.80" x2="3010.63" y2="607.20" stroke="#cc0000" stroke-width="3.5" stroke-linecap="butt"/>
<circle cx="3010.63" cy="599.00" r="6.6" fill="#ff0000"/>
<line x1="3041.59" y1="573.80" x2="3096.45" y2="573.80" stroke="#cc0000" stroke-width="3.5" stroke-linecap="butt"/>
<line x1="3070.08" y1="564.50" x2="3070.08" y2="583.10" stroke="#cc0000" stroke-width="3.5" stroke-linecap="butt"/>
<circle cx="3070.08" cy="573.80" r="6.6" fill="#ff0000"/>
<line x1="3096.45" y1="557.20" x2="3165.54" y2="557.20" stroke="#cc0000" stroke-width="3.5" stroke-linecap="butt"/>
<line x1="3132.67" y1="545.70" x2="3132.67" y2="568.70" stroke="#cc0000" stroke-width="3.5" stroke-linecap="butt"/>
<circle cx="3132.67" cy="557.20" r="6.6" fill="#ff0000"/>
<line x1="3165.54" y1="559.00" x2="3223.38" y2="559.00" stroke="#cc0000" stroke-width="3.5" stroke-linecap="butt"/>
<line x1="3195.64" y1="544.10" x2="3195.64" y2="573.90" stroke="#cc0000" stroke-width="3.5" stroke-linecap="butt"/>
<circle cx="3195.64" cy="559.00" r="6.6" fill="#ff0000"/>
<line x1="3223.38" y1="515.10" x2="3288.26" y2="515.10" stroke="#cc0000" stroke-width="3.5" stroke-linecap="butt"/>
<line x1="3257.30" y1="497.80" x2="3257.30" y2="532.40" stroke="#cc0000" stroke-width="3.5" stroke-linecap="butt"/>
<circle cx="3257.30" cy="515.10" r="6.6" fill="#ff0000"/>
<line x1="3288.26" y1="505.20" x2="3367.67" y2="505.20" stroke="#cc0000" stroke-width="3.5" stroke-linecap="butt"/>
<line x1="3330.18" y1="484.40" x2="3330.18" y2="526.00" stroke="#cc0000" stroke-width="3.5" stroke-linecap="butt"/>
<circle cx="3330.18" cy="505.20" r="6.6" fill="#ff0000"/>
<line x1="3367.67" y1="510.60" x2="3432.56" y2="510.60" stroke="#cc0000" stroke-width="3.5" stroke-linecap="butt"/>
<line x1="3401.59" y1="478.30" x2="3401.59" y2="542.90" stroke="#cc0000" stroke-width="3.5" stroke-linecap="butt"/>
<circle cx="3401.59" cy="510.60" r="6.6" fill="#ff0000"/>
<line x1="3432.56" y1="498.60" x2="3503.97" y2="498.60" stroke="#cc0000" stroke-width="3.5" stroke-linecap="butt"/>
<line x1="3470.05" y1="458.70" x2="3470.05" y2="538.50" stroke="#cc0000" stroke-width="3.5" stroke-linecap="butt"/>
<circle cx="3470.05" cy="498.60" r="6.6" fill="#ff0000"/>
<line x1="3503.97" y1="393.50" x2="3589.79" y2="393.50" stroke="#cc0000" stroke-width="3.5" stroke-linecap="butt"/>
<line x1="3549.46" y1="328.20" x2="3549.46" y2="458.80" stroke="#cc0000" stroke-width="3.5" stroke-linecap="butt"/>
<circle cx="3549.46" cy="393.50" r="6.6" fill="#ff0000"/>
<line x1="3589.79" y1="367.60" x2="3716.72" y2="367.60" stroke="#cc0000" stroke-width="3.5" stroke-linecap="butt"/>
<line x1="3658.88" y1="272.60" x2="3658.88" y2="462.60" stroke="#cc0000" stroke-width="3.5" stroke-linecap="butt"/>
<circle cx="3658.88" cy="367.60" r="6.6" fill="#ff0000"/>
<line x1="3716.72" y1="248.90" x2="4042.80" y2="248.90" stroke="#cc0000" stroke-width="3.5" stroke-linecap="butt"/>
<line x1="3915.87" y1="32.90" x2="3915.87" y2="464.90" stroke="#cc0000" stroke-width="3.5" stroke-linecap="butt"/>
<circle cx="3915.87" cy="248.90" r="6.6" fill="#ff0000"/>
<rect x="2903.10" y="613.20" width="17.2" height="17.2" fill="none" stroke="#0000cc" stroke-width="2.0"/>
<rect x="2979.30" y="588.80" width="17.2" height="17.2" fill="none" stroke="#0000cc" stroke-width="2.0"/>
<rect x="3042.30" y="569.10" width="17.2" height="17.2" fill="none" stroke="#0000cc" stroke-width="2.0"/>
<rect x="3101.60" y="548.60" width="17.2" height="17.2" fill="none" stroke="#0000cc" stroke-width="2.0"/>
<rect x="3169.70" y="528.00" width="17.2" height="17.2" fill="none" stroke="#0000cc" stroke-width="2.0"/>
<line x1="3236.30" y1="504.00" x2="3236.30" y2="506.30" stroke="#0000ff" stroke-width="3.5" stroke-linecap="butt"/>
<line x1="3236.30" y1="525.50" x2="3236.30" y2="527.80" stroke="#0000ff" stroke-width="3.5" stroke-linecap="butt"/>
<rect x="3227.70" y="507.30" width="17.2" height="17.2" fill="none" stroke="#0000cc" stroke-width="2.0"/>
<line x1="3304.80" y1="470.50" x2="3304.80" y2="474.50" stroke="#0000ff" stroke-width="3.5" stroke-linecap="butt"/>
<line x1="3304.80" y1="493.70" x2="3304.80" y2="497.70" stroke="#0000ff" stroke-width="3.5" stroke-linecap="butt"/>
<rect x="3296.20" y="475.50" width="17.2" height="17.2" fill="none" stroke="#0000cc" stroke-width="2.0"/>
<line x1="3380.70" y1="441.30" x2="3380.70" y2="447.90" stroke="#0000ff" stroke-width="3.5" stroke-linecap="butt"/>
<line x1="3380.70" y1="467.10" x2="3380.70" y2="473.70" stroke="#0000ff" stroke-width="3.5" stroke-linecap="butt"/>
<rect x="3372.10" y="448.90" width="17.2" height="17.2" fill="none" stroke="#0000cc" stroke-width="2.0"/>
<line x1="3445.50" y1="401.10" x2="3445.50" y2="411.20" stroke="#0000ff" stroke-width="3.5" stroke-linecap="butt"/>
<line x1="3445.50" y1="430.40" x2="3445.50" y2="440.50" stroke="#0000ff" stroke-width="3.5" stroke-linecap="butt"/>
<rect x="3436.90" y="412.20" width="17.2" height="17.2" fill="none" stroke="#0000cc" stroke-width="2.0"/>
<line x1="3521.00" y1="358.70" x2="3521.00" y2="369.20" stroke="#0000ff" stroke-width="3.5" stroke-linecap="butt"/>
<line x1="3521.00" y1="388.40" x2="3521.00" y2="398.90" stroke="#0000ff" stroke-width="3.5" stroke-linecap="butt"/>
<rect x="3512.40" y="370.20" width="17.2" height="17.2" fill="none" stroke="#0000cc" stroke-width="2.0"/>
<line x1="3616.20" y1="294.40" x2="3616.20" y2="312.40" stroke="#0000ff" stroke-width="3.5" stroke-linecap="butt"/>
<line x1="3616.20" y1="331.60" x2="3616.20" y2="349.60" stroke="#0000ff" stroke-width="3.5" stroke-linecap="butt"/>
<rect x="3607.60" y="313.40" width="17.2" height="17.2" fill="none" stroke="#0000cc" stroke-width="2.0"/>
<line x1="3802.80" y1="228.20" x2="3802.80" y2="256.00" stroke="#0000ff" stroke-width="3.5" stroke-linecap="butt"/>
<line x1="3802.80" y1="275.20" x2="3802.80" y2="303.00" stroke="#0000ff" stroke-width="3.5" stroke-linecap="butt"/>
<rect x="3794.20" y="257.00" width="17.2" height="17.2" fill="none" stroke="#0000cc" stroke-width="2.0"/>
<path d="M2933.90 625.10L2950.50 625.10L2942.20 609.30Z" fill="none" stroke="#e000e0" stroke-width="2.0" stroke-linejoin="miter"/>
<path d="M3004.80 600.10L3021.40 600.10L3013.10 584.30Z" fill="none" stroke="#e000e0" stroke-width="2.0" stroke-linejoin="miter"/>
<path d="M3063.30 582.50L3079.90 582.50L3071.60 566.70Z" fill="none" stroke="#e000e0" stroke-width="2.0" stroke-linejoin="miter"/>
<path d="M3128.40 562.00L3145.00 562.00L3136.70 546.20Z" fill="none" stroke="#e000e0" stroke-width="2.0" stroke-linejoin="miter"/>
<path d="M3191.90 540.30L3208.50 540.30L3200.20 524.50Z" fill="none" stroke="#e000e0" stroke-width="2.0" stroke-linejoin="miter"/>
<path d="M3248.00 522.70L3264.60 522.70L3256.30 506.90Z" fill="none" stroke="#e000e0" stroke-width="2.0" stroke-linejoin="miter"/>
<path d="M3325.60 496.30L3342.20 496.30L3333.90 480.50Z" fill="none" stroke="#e000e0" stroke-width="2.0" stroke-linejoin="miter"/>
<line x1="3405.00" y1="438.60" x2="3405.00" y2="442.00" stroke="#ff00ff" stroke-width="3.5" stroke-linecap="butt"/>
<line x1="3405.00" y1="457.90" x2="3405.00" y2="460.60" stroke="#ff00ff" stroke-width="3.5" stroke-linecap="butt"/>
<path d="M3396.70 457.10L3413.30 457.10L3405.00 441.30Z" fill="none" stroke="#e000e0" stroke-width="2.0" stroke-linejoin="miter"/>
<line x1="3471.70" y1="412.00" x2="3471.70" y2="416.10" stroke="#ff00ff" stroke-width="3.5" stroke-linecap="butt"/>
<line x1="3471.70" y1="432.00" x2="3471.70" y2="435.40" stroke="#ff00ff" stroke-width="3.5" stroke-linecap="butt"/>
<path d="M3463.40 431.20L3480.00 431.20L3471.70 415.40Z" fill="none" stroke="#e000e0" stroke-width="2.0" stroke-linejoin="miter"/>
<line x1="3552.40" y1="368.00" x2="3552.40" y2="372.90" stroke="#ff00ff" stroke-width="3.5" stroke-linecap="butt"/>
<line x1="3552.40" y1="388.80" x2="3552.40" y2="393.00" stroke="#ff00ff" stroke-width="3.5" stroke-linecap="butt"/>
<path d="M3544.10 388.00L3560.70 388.00L3552.40 372.20Z" fill="none" stroke="#e000e0" stroke-width="2.0" stroke-linejoin="miter"/>
<line x1="3662.70" y1="316.50" x2="3662.70" y2="323.40" stroke="#ff00ff" stroke-width="3.5" stroke-linecap="butt"/>
<line x1="3662.70" y1="339.30" x2="3662.70" y2="345.50" stroke="#ff00ff" stroke-width="3.5" stroke-linecap="butt"/>
<path d="M3654.40 338.50L3671.00 338.50L3662.70 322.70Z" fill="none" stroke="#e000e0" stroke-width="2.0" stroke-linejoin="miter"/>
<line x1="3925.40" y1="246.50" x2="3925.40" y2="256.40" stroke="#ff00ff" stroke-width="3.5" stroke-linecap="butt"/>
<line x1="3925.40" y1="272.30" x2="3925.40" y2="281.50" stroke="#ff00ff" stroke-width="3.5" stroke-linecap="butt"/>
<path d="M3917.10 271.50L3933.70 271.50L3925.40 255.70Z" fill="none" stroke="#e000e0" stroke-width="2.0" stroke-linejoin="miter"/>
<path d="M2958.20 613.80L2967.00 601.00L2975.80 613.80L2967.00 626.60Z" fill="none" stroke="#00e200" stroke-width="2.0" stroke-linejoin="miter"/>
<path d="M3024.20 589.80L3033.00 577.00L3041.80 589.80L3033.00 602.60Z" fill="none" stroke="#00e200" stroke-width="2.0" stroke-linejoin="miter"/>
<path d="M3080.90 572.50L3089.70 559.70L3098.50 572.50L3089.70 585.30Z" fill="none" stroke="#00e200" stroke-width="2.0" stroke-linejoin="miter"/>
<path d="M3148.40 551.00L3157.20 538.20L3166.00 551.00L3157.20 563.80Z" fill="none" stroke="#00e200" stroke-width="2.0" stroke-linejoin="miter"/>
<path d="M3207.00 527.20L3215.80 514.40L3224.60 527.20L3215.80 540.00Z" fill="none" stroke="#00e200" stroke-width="2.0" stroke-linejoin="miter"/>
<path d="M3266.70 509.00L3275.50 496.20L3284.30 509.00L3275.50 521.80Z" fill="none" stroke="#00e200" stroke-width="2.0" stroke-linejoin="miter"/>
<path d="M3348.30 470.70L3357.10 457.90L3365.90 470.70L3357.10 483.50Z" fill="none" stroke="#00e200" stroke-width="2.0" stroke-linejoin="miter"/>
<path d="M3415.20 441.80L3424.00 429.00L3432.80 441.80L3424.00 454.60Z" fill="none" stroke="#00e200" stroke-width="2.0" stroke-linejoin="miter"/>
<path d="M3484.90 404.10L3493.70 391.30L3502.50 404.10L3493.70 416.90Z" fill="none" stroke="#00e200" stroke-width="2.0" stroke-linejoin="miter"/>
<path d="M3569.00 366.20L3577.80 353.40L3586.60 366.20L3577.80 379.00Z" fill="none" stroke="#00e200" stroke-width="2.0" stroke-linejoin="miter"/>
<path d="M3691.20 300.20L3700.00 287.40L3708.80 300.20L3700.00 313.00Z" fill="none" stroke="#00e200" stroke-width="2.0" stroke-linejoin="miter"/>
<line x1="4009.10" y1="204.90" x2="4009.10" y2="208.60" stroke="#00ff00" stroke-width="3.5" stroke-linecap="butt"/>
<line x1="4009.10" y1="233.80" x2="4009.10" y2="237.50" stroke="#00ff00" stroke-width="3.5" stroke-linecap="butt"/>
<path d="M4000.30 221.20L4009.10 208.40L4017.90 221.20L4009.10 234.00Z" fill="none" stroke="#00e200" stroke-width="2.0" stroke-linejoin="miter"/>
<line x1="2897.30" y1="615.94" x2="2914.80" y2="615.94" stroke="#000" stroke-width="2.6" stroke-linecap="butt"/>
<line x1="4042.80" y1="615.94" x2="4025.30" y2="615.94" stroke="#000" stroke-width="2.6" stroke-linecap="butt"/>
<line x1="2897.30" y1="590.37" x2="2914.80" y2="590.37" stroke="#000" stroke-width="2.6" stroke-linecap="butt"/>
<line x1="4042.80" y1="590.37" x2="4025.30" y2="590.37" stroke="#000" stroke-width="2.6" stroke-linecap="butt"/>
<line x1="2897.30" y1="564.81" x2="2914.80" y2="564.81" stroke="#000" stroke-width="2.6" stroke-linecap="butt"/>
<line x1="4042.80" y1="564.81" x2="4025.30" y2="564.81" stroke="#000" stroke-width="2.6" stroke-linecap="butt"/>
<line x1="2897.30" y1="539.24" x2="2932.30" y2="539.24" stroke="#000" stroke-width="2.6" stroke-linecap="butt"/>
<line x1="4042.80" y1="539.24" x2="4007.80" y2="539.24" stroke="#000" stroke-width="2.6" stroke-linecap="butt"/>
<line x1="2897.30" y1="513.68" x2="2914.80" y2="513.68" stroke="#000" stroke-width="2.6" stroke-linecap="butt"/>
<line x1="4042.80" y1="513.68" x2="4025.30" y2="513.68" stroke="#000" stroke-width="2.6" stroke-linecap="butt"/>
<line x1="2897.30" y1="488.12" x2="2914.80" y2="488.12" stroke="#000" stroke-width="2.6" stroke-linecap="butt"/>
<line x1="4042.80" y1="488.12" x2="4025.30" y2="488.12" stroke="#000" stroke-width="2.6" stroke-linecap="butt"/>
<line x1="2897.30" y1="462.55" x2="2914.80" y2="462.55" stroke="#000" stroke-width="2.6" stroke-linecap="butt"/>
<line x1="4042.80" y1="462.55" x2="4025.30" y2="462.55" stroke="#000" stroke-width="2.6" stroke-linecap="butt"/>
<line x1="2897.30" y1="436.99" x2="2914.80" y2="436.99" stroke="#000" stroke-width="2.6" stroke-linecap="butt"/>
<line x1="4042.80" y1="436.99" x2="4025.30" y2="436.99" stroke="#000" stroke-width="2.6" stroke-linecap="butt"/>
<line x1="2897.30" y1="411.42" x2="2932.30" y2="411.42" stroke="#000" stroke-width="2.6" stroke-linecap="butt"/>
<line x1="4042.80" y1="411.42" x2="4007.80" y2="411.42" stroke="#000" stroke-width="2.6" stroke-linecap="butt"/>
<line x1="2897.30" y1="385.86" x2="2914.80" y2="385.86" stroke="#000" stroke-width="2.6" stroke-linecap="butt"/>
<line x1="4042.80" y1="385.86" x2="4025.30" y2="385.86" stroke="#000" stroke-width="2.6" stroke-linecap="butt"/>
<line x1="2897.30" y1="360.30" x2="2914.80" y2="360.30" stroke="#000" stroke-width="2.6" stroke-linecap="butt"/>
<line x1="4042.80" y1="360.30" x2="4025.30" y2="360.30" stroke="#000" stroke-width="2.6" stroke-linecap="butt"/>
<line x1="2897.30" y1="334.73" x2="2914.80" y2="334.73" stroke="#000" stroke-width="2.6" stroke-linecap="butt"/>
<line x1="4042.80" y1="334.73" x2="4025.30" y2="334.73" stroke="#000" stroke-width="2.6" stroke-linecap="butt"/>
<line x1="2897.30" y1="309.17" x2="2914.80" y2="309.17" stroke="#000" stroke-width="2.6" stroke-linecap="butt"/>
<line x1="4042.80" y1="309.17" x2="4025.30" y2="309.17" stroke="#000" stroke-width="2.6" stroke-linecap="butt"/>
<line x1="2897.30" y1="283.60" x2="2932.30" y2="283.60" stroke="#000" stroke-width="2.6" stroke-linecap="butt"/>
<line x1="4042.80" y1="283.60" x2="4007.80" y2="283.60" stroke="#000" stroke-width="2.6" stroke-linecap="butt"/>
<line x1="2897.30" y1="258.04" x2="2914.80" y2="258.04" stroke="#000" stroke-width="2.6" stroke-linecap="butt"/>
<line x1="4042.80" y1="258.04" x2="4025.30" y2="258.04" stroke="#000" stroke-width="2.6" stroke-linecap="butt"/>
<line x1="2897.30" y1="232.48" x2="2914.80" y2="232.48" stroke="#000" stroke-width="2.6" stroke-linecap="butt"/>
<line x1="4042.80" y1="232.48" x2="4025.30" y2="232.48" stroke="#000" stroke-width="2.6" stroke-linecap="butt"/>
<line x1="2897.30" y1="206.91" x2="2914.80" y2="206.91" stroke="#000" stroke-width="2.6" stroke-linecap="butt"/>
<line x1="4042.80" y1="206.91" x2="4025.30" y2="206.91" stroke="#000" stroke-width="2.6" stroke-linecap="butt"/>
<line x1="2897.30" y1="181.35" x2="2914.80" y2="181.35" stroke="#000" stroke-width="2.6" stroke-linecap="butt"/>
<line x1="4042.80" y1="181.35" x2="4025.30" y2="181.35" stroke="#000" stroke-width="2.6" stroke-linecap="butt"/>
<line x1="2897.30" y1="155.78" x2="2932.30" y2="155.78" stroke="#000" stroke-width="2.6" stroke-linecap="butt"/>
<line x1="4042.80" y1="155.78" x2="4007.80" y2="155.78" stroke="#000" stroke-width="2.6" stroke-linecap="butt"/>
<line x1="2897.30" y1="130.22" x2="2914.80" y2="130.22" stroke="#000" stroke-width="2.6" stroke-linecap="butt"/>
<line x1="4042.80" y1="130.22" x2="4025.30" y2="130.22" stroke="#000" stroke-width="2.6" stroke-linecap="butt"/>
<line x1="2897.30" y1="104.66" x2="2914.80" y2="104.66" stroke="#000" stroke-width="2.6" stroke-linecap="butt"/>
<line x1="4042.80" y1="104.66" x2="4025.30" y2="104.66" stroke="#000" stroke-width="2.6" stroke-linecap="butt"/>
<line x1="2897.30" y1="79.09" x2="2914.80" y2="79.09" stroke="#000" stroke-width="2.6" stroke-linecap="butt"/>
<line x1="4042.80" y1="79.09" x2="4025.30" y2="79.09" stroke="#000" stroke-width="2.6" stroke-linecap="butt"/>
<line x1="2897.30" y1="53.53" x2="2914.80" y2="53.53" stroke="#000" stroke-width="2.6" stroke-linecap="butt"/>
<line x1="4042.80" y1="53.53" x2="4025.30" y2="53.53" stroke="#000" stroke-width="2.6" stroke-linecap="butt"/>
<line x1="2897.30" y1="27.96" x2="2932.30" y2="27.96" stroke="#000" stroke-width="2.6" stroke-linecap="butt"/>
<line x1="4042.80" y1="27.96" x2="4007.80" y2="27.96" stroke="#000" stroke-width="2.6" stroke-linecap="butt"/>
<text transform="translate(2891.30,555.04) scale(1,1.04)" font-size="45" text-anchor="end">0.3</text>
<text transform="translate(2891.30,427.22) scale(1,1.04)" font-size="45" text-anchor="end">0.4</text>
<text transform="translate(2891.30,299.40) scale(1,1.04)" font-size="45" text-anchor="end">0.5</text>
<text transform="translate(2891.30,171.58) scale(1,1.04)" font-size="45" text-anchor="end">0.6</text>
<text transform="translate(2891.30,43.76) scale(1,1.04)" font-size="45" text-anchor="end">0.7</text>
<line x1="3041.59" y1="641.50" x2="3041.59" y2="624.00" stroke="#000" stroke-width="2.6" stroke-linecap="butt"/>
<line x1="3041.59" y1="2.40" x2="3041.59" y2="19.90" stroke="#000" stroke-width="2.6" stroke-linecap="butt"/>
<line x1="3143.97" y1="641.50" x2="3143.97" y2="624.00" stroke="#000" stroke-width="2.6" stroke-linecap="butt"/>
<line x1="3143.97" y1="2.40" x2="3143.97" y2="19.90" stroke="#000" stroke-width="2.6" stroke-linecap="butt"/>
<line x1="3223.38" y1="641.50" x2="3223.38" y2="624.00" stroke="#000" stroke-width="2.6" stroke-linecap="butt"/>
<line x1="3223.38" y1="2.40" x2="3223.38" y2="19.90" stroke="#000" stroke-width="2.6" stroke-linecap="butt"/>
<line x1="3288.26" y1="641.50" x2="3288.26" y2="624.00" stroke="#000" stroke-width="2.6" stroke-linecap="butt"/>
<line x1="3288.26" y1="2.40" x2="3288.26" y2="19.90" stroke="#000" stroke-width="2.6" stroke-linecap="butt"/>
<line x1="3343.12" y1="641.50" x2="3343.12" y2="624.00" stroke="#000" stroke-width="2.6" stroke-linecap="butt"/>
<line x1="3343.12" y1="2.40" x2="3343.12" y2="19.90" stroke="#000" stroke-width="2.6" stroke-linecap="butt"/>
<line x1="3390.64" y1="641.50" x2="3390.64" y2="624.00" stroke="#000" stroke-width="2.6" stroke-linecap="butt"/>
<line x1="3390.64" y1="2.40" x2="3390.64" y2="19.90" stroke="#000" stroke-width="2.6" stroke-linecap="butt"/>
<line x1="3432.56" y1="641.50" x2="3432.56" y2="624.00" stroke="#000" stroke-width="2.6" stroke-linecap="butt"/>
<line x1="3432.56" y1="2.40" x2="3432.56" y2="19.90" stroke="#000" stroke-width="2.6" stroke-linecap="butt"/>
<line x1="3716.72" y1="641.50" x2="3716.72" y2="624.00" stroke="#000" stroke-width="2.6" stroke-linecap="butt"/>
<line x1="3716.72" y1="2.40" x2="3716.72" y2="19.90" stroke="#000" stroke-width="2.6" stroke-linecap="butt"/>
<line x1="3861.01" y1="641.50" x2="3861.01" y2="624.00" stroke="#000" stroke-width="2.6" stroke-linecap="butt"/>
<line x1="3861.01" y1="2.40" x2="3861.01" y2="19.90" stroke="#000" stroke-width="2.6" stroke-linecap="butt"/>
<line x1="3963.39" y1="641.50" x2="3963.39" y2="624.00" stroke="#000" stroke-width="2.6" stroke-linecap="butt"/>
<line x1="3963.39" y1="2.40" x2="3963.39" y2="19.90" stroke="#000" stroke-width="2.6" stroke-linecap="butt"/>
<line x1="3470.05" y1="641.50" x2="3470.05" y2="606.50" stroke="#000" stroke-width="2.6" stroke-linecap="butt"/>
<line x1="3470.05" y1="2.40" x2="3470.05" y2="37.40" stroke="#000" stroke-width="2.6" stroke-linecap="butt"/>
<text x="3440" y="699.6" font-size="45">10<tspan font-size="28" dy="-19.8" dx="0.5">3</tspan></text>
<rect x="2897.30" y="2.4" width="1145.5" height="639.10" fill="none" stroke="#000" stroke-width="2.9"/>
<text x="2939.80" y="64.8" font-size="38.4">ATLAS 13 TeV 140 fb<tspan font-size="25.5" dy="-16.2" dx="-1">-1</tspan></text>
<line x1="2947.90" y1="90.70" x2="3061.10" y2="90.70" stroke="#cc0000" stroke-width="3.5" stroke-linecap="butt"/>
<line x1="3004.50" y1="80.40" x2="3004.50" y2="101.50" stroke="#cc0000" stroke-width="3.5" stroke-linecap="butt"/>
<circle cx="3004.50" cy="90.70" r="6.6" fill="#ff0000"/>
<text x="3085.30" y="98.50" font-size="38.6">Data</text>
<line x1="2947.90" y1="125.10" x2="3061.10" y2="125.10" stroke="#0000ff" stroke-width="3.5" stroke-linecap="butt"/>
<line x1="3004.50" y1="114.60" x2="3004.50" y2="115.50" stroke="#0000ff" stroke-width="3.5" stroke-linecap="butt"/>
<line x1="3004.50" y1="134.70" x2="3004.50" y2="135.60" stroke="#0000ff" stroke-width="3.5" stroke-linecap="butt"/>
<rect x="2995.90" y="116.50" width="17.2" height="17.2" fill="none" stroke="#0000cc" stroke-width="2.0"/>
<text x="3085.30" y="132.90" font-size="38.6">CT18NNLO</text>
<line x1="2947.90" y1="159.80" x2="3061.10" y2="159.80" stroke="#ff00ff" stroke-width="3.5" stroke-linecap="butt"/>
<line x1="3004.50" y1="149.30" x2="3004.50" y2="152.20" stroke="#ff00ff" stroke-width="3.5" stroke-linecap="butt"/>
<line x1="3004.50" y1="168.10" x2="3004.50" y2="170.30" stroke="#ff00ff" stroke-width="3.5" stroke-linecap="butt"/>
<path d="M2996.20 167.30L3012.80 167.30L3004.50 151.50Z" fill="none" stroke="#e000e0" stroke-width="2.0" stroke-linejoin="miter"/>
<text x="3085.30" y="167.60" font-size="38.6">MSHT20</text>
<line x1="2947.90" y1="193.80" x2="3061.10" y2="193.80" stroke="#00ff00" stroke-width="3.5" stroke-linecap="butt"/>
<path d="M2995.70 193.80L3004.50 181.00L3013.30 193.80L3004.50 206.60Z" fill="none" stroke="#00e200" stroke-width="2.0" stroke-linejoin="miter"/>
<text x="3085.30" y="201.60" font-size="38.6">NNPDF4.0</text>
<g transform="translate(2820.9,61.6) rotate(-90)"><text x="0" y="0" font-size="45">A</text><text x="32" y="-22" font-size="27">W</text><text x="32" y="11.6" font-size="27">ch</text></g>
<text x="3922.8" y="736.9" font-size="45">m<tspan font-size="27" dy="9.9">T</tspan><tspan dy="-9.9">[GeV]</tspan></text>
</svg>
</body></html>
